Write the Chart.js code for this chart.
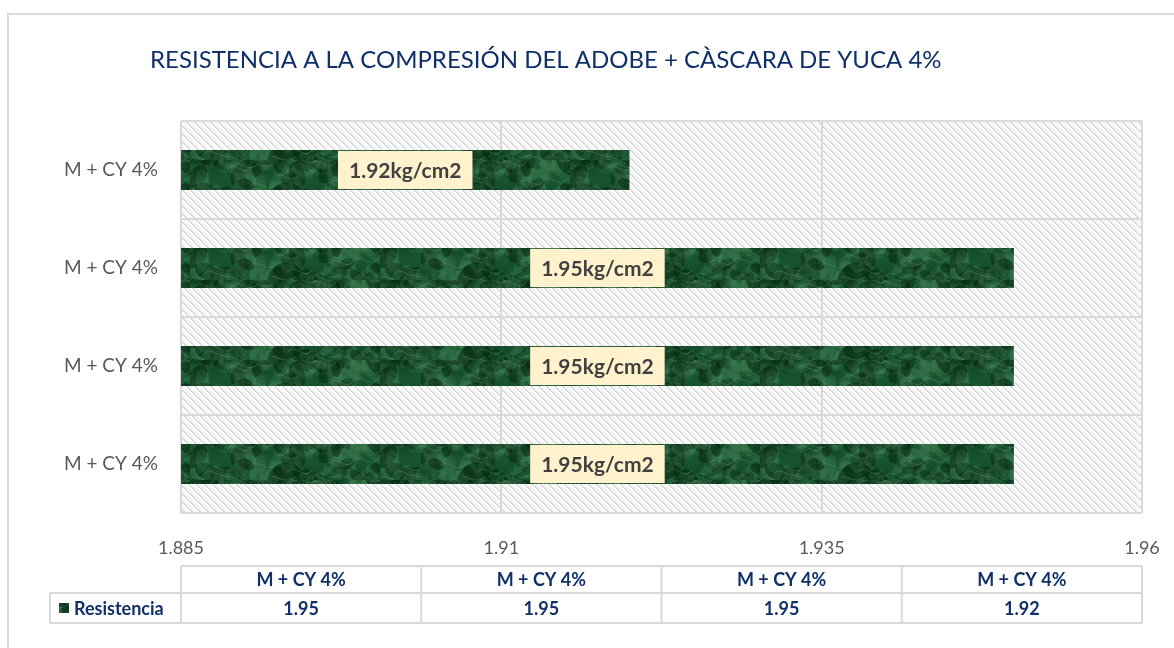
<!DOCTYPE html>
<html>
<head>
<meta charset="utf-8">
<script src="https://cdn.jsdelivr.net/npm/chart.js@4.4.1/dist/chart.umd.min.js"></script>
<style>
  html, body { margin: 0; background: #fff; }
  #wrap { width: 1174px; height: 648px; position: relative; }
</style>
</head>
<body>
<div id="wrap"><canvas id="chart" width="1174" height="648"></canvas></div>
<script>
// values, bottom row first (same order as the table under the axis)
const chartTitle = "RESISTENCIA A LA COMPRESIÓN DEL ADOBE + CÀSCARA DE YUCA 4%";
const categories = ["M + CY 4%", "M + CY 4%", "M + CY 4%", "M + CY 4%"];
const resistencia = [1.95, 1.95, 1.95, 1.92];
const xTicks = [1.885, 1.91, 1.935, 1.96];
const seriesName = "Resistencia";
const unit = "kg/cm2";

const FONT = "Lato, 'Open Sans', sans-serif";
const NAVY = "#10306a";
const GRID = "#d9d9d9";

const canvas = document.getElementById("chart");
const ctx = canvas.getContext("2d");

// light diagonal hatch behind the plot
function hatchPattern() {
  const c = document.createElement("canvas");
  c.width = 8; c.height = 8;
  const g = c.getContext("2d");
  g.fillStyle = "#fff";
  g.fillRect(0, 0, 8, 8);
  for (let i = 0; i < 8; i++) {
    g.fillStyle = i % 2 ? "#d2d2d2" : "#dedede";
    g.fillRect(i, i, 1, 1);
    g.fillRect((i + 1) % 8, i, 1, 1);
    g.fillStyle = "#ebebeb";
    g.fillRect((i + 4) % 8, i, 1, 1);
  }
  return ctx.createPattern(c, "repeat");
}

// mottled green fill for the bars
function marblePattern() {
  const c = document.createElement("canvas");
  c.width = 190; c.height = 40;
  const g = c.getContext("2d");
  const grad = g.createLinearGradient(0, 0, 0, 40);
  grad.addColorStop(0, "#0e4021");
  grad.addColorStop(0.5, "#185531");
  grad.addColorStop(1, "#0f4324");
  g.fillStyle = grad;
  g.fillRect(0, 0, 190, 40);
  for (let k = 0; k < 130; k++) {
    const x = (k * 73.3) % 190;
    const y = (Math.sin(k * 1.7) * 0.5 + 0.5) * 40;
    const r = 2 + (k * 37) % 9;
    g.fillStyle = k % 3 === 0 ? "rgba(4,34,14,0.5)" : "rgba(90,165,115,0.14)";
    g.beginPath();
    g.ellipse(x, y, r * 1.7, r, (k % 7) * 0.45, 0, Math.PI * 2);
    g.fill();
  }
  g.strokeStyle = "rgba(120,190,140,0.25)";
  g.lineWidth = 1;
  for (let k = 0; k < 20; k++) {
    const x0 = (k * 41.7) % 190, y0 = (Math.cos(k * 2.3) * 0.5 + 0.5) * 40;
    g.beginPath();
    g.moveTo(x0, y0);
    g.bezierCurveTo(x0 + 8, y0 - 10, x0 + 16, y0 + 9, x0 + 26, y0 - 3);
    g.stroke();
  }
  return ctx.createPattern(c, "repeat");
}

const hatch = hatchPattern();
const marble = marblePattern();

// frame, title and hatched plot background
const backdrop = {
  id: "backdrop",
  beforeDraw(chart) {
    const { ctx, chartArea: a } = chart;
    ctx.save();
    ctx.fillStyle = "#fff";
    ctx.fillRect(0, 0, chart.width, chart.height);
    ctx.strokeStyle = GRID;
    ctx.lineWidth = 2;
    ctx.strokeRect(8, 14, chart.width + 20, chart.height + 20);
    ctx.fillStyle = hatch;
    ctx.fillRect(a.left, a.top, a.right - a.left, a.bottom - a.top);
    ctx.fillStyle = NAVY;
    ctx.font = "24px " + FONT;
    ctx.textBaseline = "middle";
    ctx.fillText(chartTitle, 150, 60);
    ctx.restore();
  }
};

// value boxes in the middle of each bar
const valueLabels = {
  id: "valueLabels",
  afterDatasetsDraw(chart) {
    const { ctx, chartArea: a } = chart;
    const meta = chart.getDatasetMeta(0);
    ctx.save();
    ctx.font = "bold 21px " + FONT;
    ctx.textAlign = "center";
    ctx.textBaseline = "middle";
    meta.data.forEach((bar, i) => {
      const text = resistencia[i].toFixed(2) + unit;
      const cx = (a.left + bar.x) / 2;
      const w = ctx.measureText(text).width + 22;
      const h = bar.height - 2;
      ctx.fillStyle = "#fff2cc";
      ctx.fillRect(cx - w / 2, bar.y - h / 2, w, h);
      ctx.fillStyle = "#404040";
      ctx.fillText(text, cx, bar.y + 1);
    });
    ctx.restore();
  }
};

// data table under the x axis
const dataTable = {
  id: "dataTable",
  afterDraw(chart) {
    const { ctx, chartArea: a } = chart;
    const top = a.bottom + 53, h1 = 27, h2 = 30;
    const colW = (a.right - a.left) / categories.length;
    const legendLeft = 50;
    ctx.save();
    ctx.strokeStyle = GRID;
    ctx.lineWidth = 2;
    ctx.beginPath();
    ctx.moveTo(a.left, top); ctx.lineTo(a.right, top);
    ctx.moveTo(legendLeft, top + h1); ctx.lineTo(a.right, top + h1);
    ctx.moveTo(legendLeft, top + h1 + h2); ctx.lineTo(a.right, top + h1 + h2);
    ctx.moveTo(legendLeft, top + h1); ctx.lineTo(legendLeft, top + h1 + h2);
    for (let i = 0; i <= categories.length; i++) {
      const x = a.left + i * colW;
      ctx.moveTo(x, top);
      ctx.lineTo(x, top + h1 + h2);
    }
    ctx.stroke();

    ctx.fillStyle = NAVY;
    ctx.font = "bold 18px " + FONT;
    ctx.textAlign = "center";
    ctx.textBaseline = "middle";
    categories.forEach((c, i) => {
      const cx = a.left + (i + 0.5) * colW;
      ctx.fillText(c, cx, top + h1 / 2 + 1);
      ctx.fillText(resistencia[i].toFixed(2), cx, top + h1 + h2 / 2 + 1);
    });

    ctx.fillStyle = marble;
    ctx.fillRect(59, top + h1 + h2 / 2 - 5, 10, 10);
    ctx.fillStyle = NAVY;
    ctx.textAlign = "left";
    ctx.fillText(seriesName, 74, top + h1 + h2 / 2 + 1);
    ctx.restore();
  }
};

new Chart(ctx, {
  type: "bar",
  data: {
    labels: categories,
    datasets: [{
      label: seriesName,
      data: resistencia,
      backgroundColor: marble,
      barPercentage: 0.41,
      categoryPercentage: 1
    }]
  },
  options: {
    indexAxis: "y",
    responsive: false,
    animation: false,
    devicePixelRatio: 1,
    layout: { padding: { left: 0, right: 32, top: 121, bottom: 0 } },
    plugins: {
      legend: { display: false },
      tooltip: { enabled: false }
    },
    scales: {
      x: {
        min: xTicks[0],
        max: xTicks[xTicks.length - 1],
        afterBuildTicks: s => { s.ticks = xTicks.map(v => ({ value: v })); },
        afterFit: s => { s.height = 135; s.paddingLeft = 0; s.paddingRight = 0; },
        grid: { color: GRID, lineWidth: 2, drawTicks: false },
        border: { display: false },
        ticks: {
          padding: 24,
          color: "#595959",
          font: { family: FONT, size: 18 },
          callback: v => String(v)
        }
      },
      y: {
        reverse: true,
        afterFit: s => { s.width = 181; },
        grid: { color: GRID, lineWidth: 2, drawTicks: false },
        border: { display: false },
        ticks: {
          padding: 23,
          color: "#595959",
          font: { family: FONT, size: 19 }
        }
      }
    }
  },
  plugins: [backdrop, valueLabels, dataTable]
});
</script>
</body>
</html>
